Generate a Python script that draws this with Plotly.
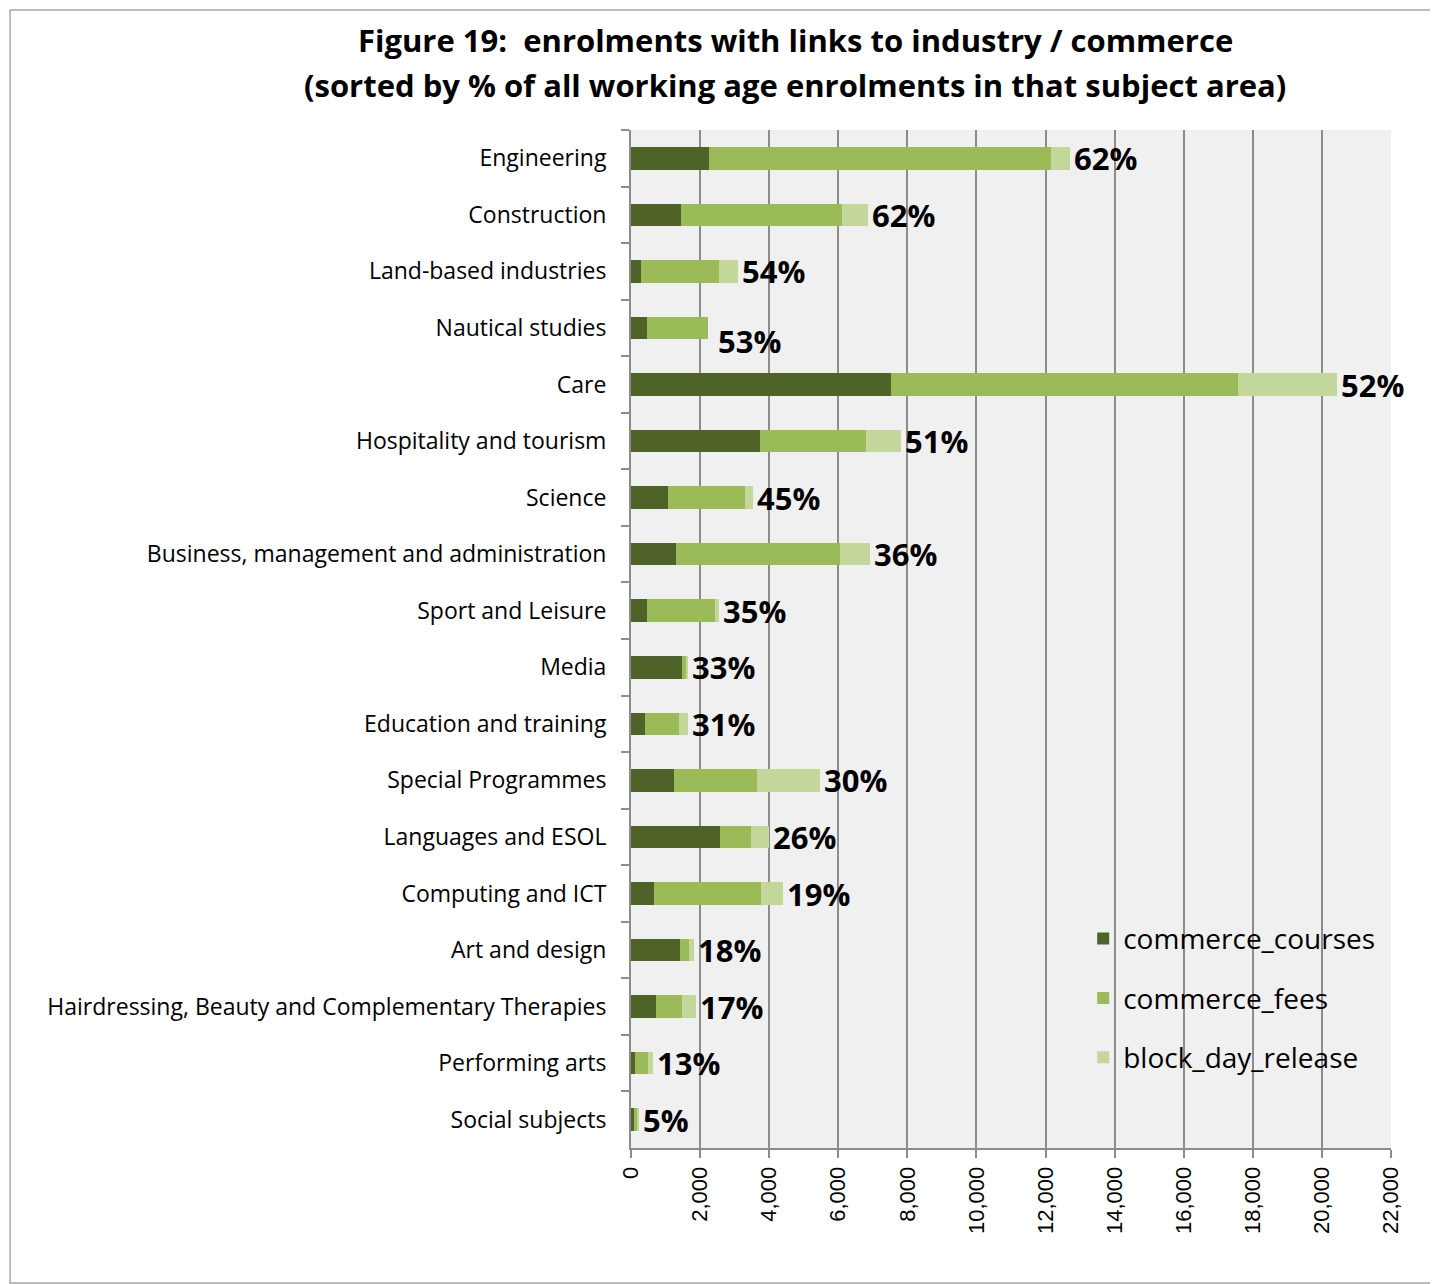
import plotly.graph_objects as go

subjects = ["Engineering", "Construction", "Land-based industries", "Nautical studies", "Care",
            "Hospitality and tourism", "Science", "Business, management and administration",
            "Sport and Leisure", "Media", "Education and training", "Special Programmes",
            "Languages and ESOL", "Computing and ICT", "Art and design",
            "Hairdressing, Beauty and Complementary Therapies", "Performing arts", "Social subjects"]

commerce_courses = [2250, 1450, 290, 450, 7540, 3720, 1080, 1300, 460, 1480, 400, 1240, 2590, 680, 1420, 720, 110, 100]
commerce_fees = [9920, 4650, 2250, 1780, 10030, 3070, 2210, 4760, 1960, 130, 990, 2400, 880, 3080, 260, 750, 390, 80]
block_day_release = [540, 760, 570, 0, 2870, 1030, 230, 870, 120, 30, 250, 1820, 520, 630, 140, 420, 130, 40]
pct_labels = ["62%", "62%", "54%", "53%", "52%", "51%", "45%", "36%", "35%", "33%", "31%", "30%",
              "26%", "19%", "18%", "17%", "13%", "5%"]

tick_vals = list(range(0, 22001, 2000))

fig = go.Figure()
series = [("commerce_courses", commerce_courses, "#4F6228"),
          ("commerce_fees", commerce_fees, "#9BBB59"),
          ("block_day_release", block_day_release, "#C4D79B")]
for name, vals, col in series:
    fig.add_trace(go.Bar(y=subjects, x=vals, name=name, orientation="h",
                         marker=dict(color=col, line=dict(width=0)), legendgroup=name))

# percentage labels at the bar ends
for i, s in enumerate(subjects):
    total = commerce_courses[i] + commerce_fees[i] + block_day_release[i]
    xs, ys = 2, 0
    if s == "Nautical studies":
        xs, ys = 8, -13
    fig.add_annotation(x=total, y=s, text="<b>" + pct_labels[i] + "</b>", showarrow=False,
                       xanchor="left", yanchor="middle", xshift=xs, yshift=ys,
                       font=dict(family="Open Sans", size=31, color="black"))

# title, two lines
fig.add_annotation(xref="paper", yref="paper", x=0.2158, y=1.0884, showarrow=False,
                   text="<b>Figure 19:  enrolments with links to industry / commerce</b>",
                   xanchor="center", yanchor="middle",
                   font=dict(family="Open Sans", size=31, color="black"))
fig.add_annotation(xref="paper", yref="paper", x=0.2158, y=1.0442, showarrow=False,
                   text="<b>(sorted by % of all working age enrolments in that subject area)</b>",
                   xanchor="center", yanchor="middle",
                   font=dict(family="Open Sans", size=31, color="black"))

# outer chart frame
fig.add_shape(type="rect", xref="paper", yref="paper", x0=-0.817, x1=1.0605, y0=-0.1326, y1=1.118,
              line=dict(color="#A6A6A6", width=1.5), layer="below")

fig.update_layout(
    width=1430, height=1276,
    margin=dict(l=623, r=47, t=122, b=136),
    barmode="stack", bargap=0.6,
    paper_bgcolor="white", plot_bgcolor="#F0F0F0",
    font=dict(family="Open Sans", color="black"),
    legend=dict(x=0.595, y=0.23, xanchor="left", yanchor="top", bgcolor="rgba(0,0,0,0)",
                font=dict(family="Open Sans", size=28), tracegroupgap=20,
                traceorder="grouped", itemwidth=30),
    showlegend=True,
)
fig.update_xaxes(range=[0, 22000], tickvals=tick_vals, tickformat=",", tickangle=-90,
                 showgrid=True, gridcolor="#8C8C8C", gridwidth=2,
                 showline=True, linecolor="#8C8C8C", linewidth=2,
                 ticks="outside", ticklen=8, tickcolor="#8C8C8C", tickwidth=2,
                 tickfont=dict(family="Liberation Sans", size=22), zeroline=False)
fig.update_yaxes(categoryorder="array", categoryarray=subjects, autorange="reversed",
                 showline=True, linecolor="#8C8C8C", linewidth=2,
                 ticks="outside", tickson="boundaries", ticklen=8, tickcolor="#8C8C8C", tickwidth=2,
                 tickfont=dict(family="Open Sans", size=23), ticklabelstandoff=18)

fig.write_html("out.html")
